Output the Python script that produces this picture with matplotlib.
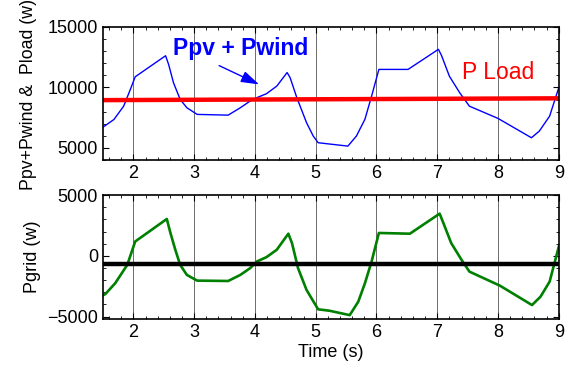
import matplotlib
matplotlib.use('Agg')
import matplotlib.pyplot as plt
from matplotlib.ticker import MultipleLocator

plt.rcParams['font.family'] = ['Liberation Sans', 'DejaVu Sans']

# --- data ---
t_src = [1.51, 1.68, 1.84, 1.95, 2.03, 2.28, 2.53, 2.58, 2.66, 2.77, 2.88, 3.05, 3.56, 3.76,
         3.92, 4.03, 4.19, 4.36, 4.53, 4.58, 4.69, 4.85, 4.96, 5.04, 5.23, 5.53, 5.67, 5.81,
         5.92, 6.04, 6.52, 7.02, 7.07, 7.20, 7.37, 7.53, 8.0, 8.55, 8.68, 8.85, 9.0]
p_src = [6750, 7350, 8450, 9830, 10880, 11750, 12620, 11900, 10390, 9010, 8320, 7770, 7710, 8320,
         8870, 9150, 9480, 10110, 11230, 10800, 9150, 7080, 5980, 5430, 5320, 5150, 5980, 7360,
         9280, 11490, 11490, 13150, 12650, 10930, 9560, 8450, 7440, 5840, 6390, 7630, 9980]

t_load = [1.5, 9.0]
p_load = [8950, 9100]

t_grid = [1.5, 1.54, 1.70, 1.90, 2.03, 2.28, 2.55, 2.61, 2.69, 2.77, 2.88, 3.05, 3.56, 3.76,
          3.92, 4.03, 4.19, 4.36, 4.55, 4.61, 4.71, 4.85, 5.04, 5.23, 5.56, 5.70, 5.81, 5.92,
          6.04, 6.55, 7.04, 7.09, 7.23, 7.40, 7.53, 8.03, 8.56, 8.70, 8.85, 9.0]
p_grid = [-3250, -3140, -2260, -740, 1180, 2070, 3030, 1880, 500, -740, -1570, -2040, -2070, -1570,
          -1020, -470, -110, 500, 1820, 1050, -1020, -2810, -4400, -4520, -4880, -3780, -2260, -470,
          1880, 1820, 3470, 2840, 1050, -330, -1300, -2450, -4050, -3360, -2120, 750]

t_ref = [1.5, 9.0]
p_ref = [-660, -660]

xticks = [2, 3, 4, 5, 6, 7, 8, 9]

fig = plt.figure(figsize=(5.69, 3.78), dpi=100)
ax1 = fig.add_axes([0.181, 0.5767, 0.801, 0.352])
ax2 = fig.add_axes([0.181, 0.156, 0.801, 0.328])

ax1.plot(t_src, p_src, color='blue', lw=1.0)
ax1.plot(t_load, p_load, color='red', lw=3.2)
ax1.set_ylim(4000, 15000)
ax1.set_yticks([5000, 10000, 15000])
ax1.set_ylabel('Ppv+Pwind &  Pload (w)', fontsize=12.8)
ax1.yaxis.set_label_coords(-0.145, 0.49)
ax1.text(3.77, 13200, 'Ppv + Pwind', color='blue', fontsize=16.5, fontweight='bold',
         ha='center', va='center')
ax1.annotate('', xy=(4.11, 10150), xytext=(3.37, 11900),
             arrowprops=dict(arrowstyle='-|>,head_length=1.1,head_width=0.35', color='blue', lw=1.0))
ax1.text(8.0, 11200, 'P Load', color='red', fontsize=16.5, ha='center', va='center')

ax2.plot(t_grid, p_grid, color='green', lw=1.9)
ax2.plot(t_ref, p_ref, color='black', lw=3.2)
ax2.set_ylim(-5200, 5000)
ax2.set_yticks([-5000, 0, 5000])
ax2.set_ylabel('Pgrid (w)', fontsize=13)
ax2.yaxis.set_label_coords(-0.135, 0.5)
ax2.set_xlabel('Time (s)', fontsize=13, labelpad=2)

for ax in (ax1, ax2):
    ax.set_xlim(1.5, 9)
    ax.set_xticks(xticks)
    ax.xaxis.set_minor_locator(MultipleLocator(0.2))
    ax.yaxis.set_minor_locator(MultipleLocator(1000))
    ax.grid(axis='x', which='major', color='#555555', lw=0.6)
    ax.tick_params(which='both', direction='in', top=True, right=True, labelsize=13)
    ax.tick_params(which='major', length=4)
    ax.tick_params(which='minor', length=2)
    for s in ax.spines.values():
        s.set_linewidth(1.2)

fig.savefig('out.png', dpi=100)
